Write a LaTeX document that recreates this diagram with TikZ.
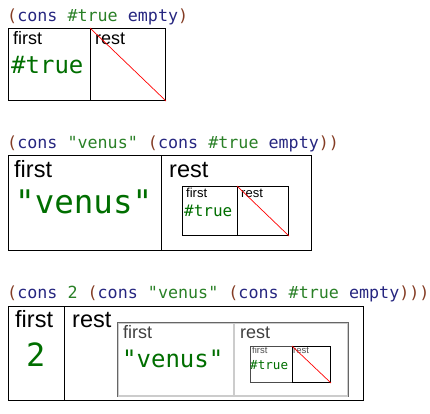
\documentclass[tikz,border=0pt]{standalone}
\usepackage{fontspec}
\setsansfont{Liberation Sans}
\setmonofont{DejaVu Sans Mono}
\definecolor{paren}{RGB}{132,60,36}
\definecolor{sym}{RGB}{38,38,128}
\definecolor{const}{RGB}{41,128,38}
\definecolor{val}{RGB}{0,110,0}
\newcommand{\pn}[1]{\textcolor{paren}{#1}}
\newcommand{\sy}[1]{\textcolor{sym}{#1}}
\newcommand{\cn}[1]{\textcolor{const}{#1}}
\newcommand{\fsz}[1]{\fontsize{#1}{#1}\selectfont}
\tikzset{
  cell/.style={shape=rectangle,draw,anchor=north west,inner sep=0pt,line width=1pt},
  word/.style={anchor=base west,inner sep=0pt},
  empty/.style={draw=red,line width=0.7pt}
}
\begin{document}
\begin{tikzpicture}[x=1pt,y=-1pt]
            \useasboundingbox (0,0) rectangle (430,413);
            % (cons #true empty)
            \node (code1) at (7,21) [word,font=\ttfamily\fsz{16.7}] {\pn{(}\sy{cons} \cn{\#true} \sy{empty}\pn{)}};
            \node (first1) at (8,28) [cell,minimum width=82pt,minimum height=72pt] {};
            \node (rest1) at (90,28) [cell,minimum width=75pt,minimum height=72pt] {};
            \node (firstlbl1) at (13,44) [word,font=\sffamily\fsz{18}] {first};
            \node (restlbl1) at (95,44) [word,font=\sffamily\fsz{18}] {rest};
            \node (true1) at (11,73) [word,font=\ttfamily\fsz{24},text=val] {\#true};
            \draw[empty] (rest1.north west) -- (rest1.south east);
            % (cons "venus" (cons #true empty))
            \node (code2) at (7,148) [word,font=\ttfamily\fsz{16.7}] {\pn{(}\sy{cons} \cn{"venus"} \pn{(}\sy{cons} \cn{\#true} \sy{empty}\pn{))}};
            \node (first2) at (8,155) [cell,minimum width=153pt,minimum height=95pt] {};
            \node (rest2) at (161,155) [cell,minimum width=150pt,minimum height=95pt] {};
            \node (firstlbl2) at (14,177) [word,font=\sffamily\fsz{23.5}] {first};
            \node (restlbl2) at (169,177) [word,font=\sffamily\fsz{23.5}] {rest};
            \node (venus2) at (15,213) [word,font=\ttfamily\fsz{32.5},text=val] {"venus"};
            \node (first2a) at (182,186) [cell,minimum width=55pt,minimum height=49pt] {};
            \node (rest2a) at (237,186) [cell,minimum width=51pt,minimum height=49pt] {};
            \node (firstlbl2a) at (186,197) [word,font=\sffamily\fsz{13}] {first};
            \node (restlbl2a) at (241,197) [word,font=\sffamily\fsz{13}] {rest};
            \node (true2a) at (184,216) [word,font=\ttfamily\fsz{16},text=val] {\#true};
            \draw[empty] (rest2a.north west) -- (rest2a.south east);
            % (cons 2 (cons "venus" (cons #true empty)))
            \node (code3) at (7,298) [word,font=\ttfamily\fsz{16.7}] {\pn{(}\sy{cons} \cn{2} \pn{(}\sy{cons} \cn{"venus"} \pn{(}\sy{cons} \cn{\#true} \sy{empty}\pn{)))}};
            \node (first3) at (8,306) [cell,minimum width=56pt,minimum height=94pt] {};
            \node (rest3) at (64,306) [cell,minimum width=299pt,minimum height=94pt] {};
            \node (firstlbl3) at (15,327) [word,font=\sffamily\fsz{23.5}] {first};
            \node (restlbl3) at (72,327) [word,font=\sffamily\fsz{23.5}] {rest};
            \node (two3) at (26,366) [word,font=\ttfamily\fsz{32},text=val] {2};
            \node (first3a) at (117,322) [cell,draw=gray!40,line width=1.5pt,minimum width=116pt,minimum height=73pt] {};
            \node (rest3a) at (233,322) [cell,draw=gray!40,line width=1.5pt,minimum width=114pt,minimum height=73pt] {};
            \draw[gray!80!black,line width=1pt] (first3a.south west) -- (first3a.north west) -- (rest3a.north east) -- (rest3a.south east);
            \node (firstlbl3a) at (123,338) [word,font=\sffamily\fsz{18},text=black!75] {first};
            \node (restlbl3a) at (240,338) [word,font=\sffamily\fsz{18},text=black!75] {rest};
            \node (venus3a) at (122,367) [word,font=\ttfamily\fsz{24},text=val] {"venus"};
            \node (first3b) at (250,346) [cell,draw=black!70,minimum width=42pt,minimum height=36pt] {};
            \node (rest3b) at (292,346) [cell,minimum width=38pt,minimum height=36pt] {};
            \node (firstlbl3b) at (252,353) [word,font=\sffamily\fsz{9.5},text=black!70] {first};
            \node (restlbl3b) at (293,353) [word,font=\sffamily\fsz{9.5},text=black!70] {rest};
            \node (true3b) at (250,369) [word,font=\ttfamily\fsz{12.6},text=val] {\#true};
            \draw[empty] (rest3b.north west) -- (rest3b.south east);
        \end{tikzpicture}
\end{document}
